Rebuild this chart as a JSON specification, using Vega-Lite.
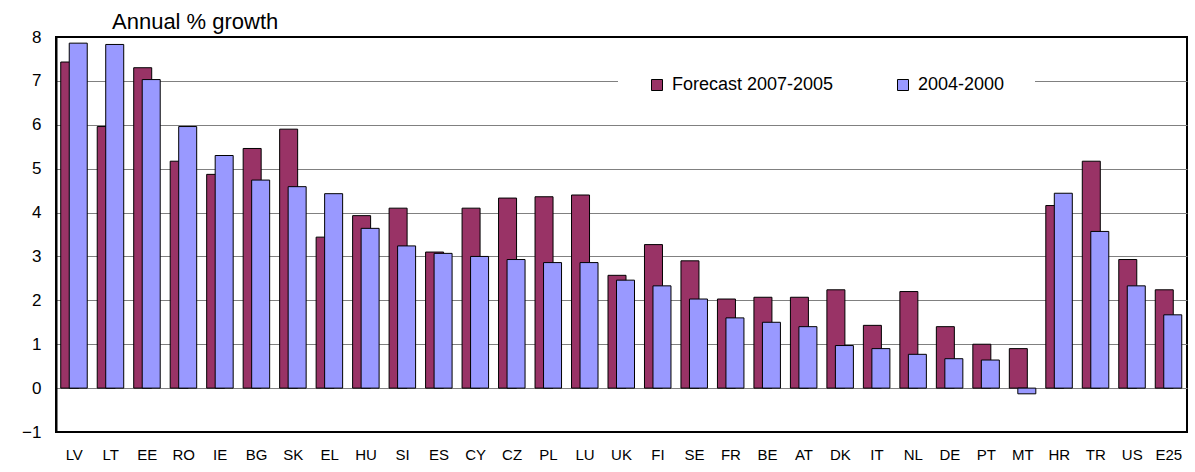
{
  "$schema": "https://vega.github.io/schema/vega-lite/v6.json",
  "autosize": "none",
  "padding": {"left": 56, "top": 37, "right": 8, "bottom": 40},
  "width": 1131,
  "height": 395,
  "background": "white",
  "title": {
    "text": "Annual % growth",
    "anchor": "start",
    "frame": "group",
    "dx": 56,
    "dy": 31,
    "offset": 3,
    "baseline": "bottom",
    "font": "Liberation Sans",
    "fontSize": 22,
    "fontWeight": "normal",
    "color": "black"
  },
  "data": {
    "values": [
      {"country": "LV", "series": "Forecast 2007-2005", "growth": 7.43},
      {"country": "LT", "series": "Forecast 2007-2005", "growth": 5.96},
      {"country": "EE", "series": "Forecast 2007-2005", "growth": 7.30},
      {"country": "RO", "series": "Forecast 2007-2005", "growth": 5.17},
      {"country": "IE", "series": "Forecast 2007-2005", "growth": 4.87},
      {"country": "BG", "series": "Forecast 2007-2005", "growth": 5.46},
      {"country": "SK", "series": "Forecast 2007-2005", "growth": 5.90},
      {"country": "EL", "series": "Forecast 2007-2005", "growth": 3.44},
      {"country": "HU", "series": "Forecast 2007-2005", "growth": 3.93},
      {"country": "SI", "series": "Forecast 2007-2005", "growth": 4.10},
      {"country": "ES", "series": "Forecast 2007-2005", "growth": 3.10},
      {"country": "CY", "series": "Forecast 2007-2005", "growth": 4.10},
      {"country": "CZ", "series": "Forecast 2007-2005", "growth": 4.33},
      {"country": "PL", "series": "Forecast 2007-2005", "growth": 4.36},
      {"country": "LU", "series": "Forecast 2007-2005", "growth": 4.40},
      {"country": "UK", "series": "Forecast 2007-2005", "growth": 2.57},
      {"country": "FI", "series": "Forecast 2007-2005", "growth": 3.27},
      {"country": "SE", "series": "Forecast 2007-2005", "growth": 2.90},
      {"country": "FR", "series": "Forecast 2007-2005", "growth": 2.03},
      {"country": "BE", "series": "Forecast 2007-2005", "growth": 2.07},
      {"country": "AT", "series": "Forecast 2007-2005", "growth": 2.07},
      {"country": "DK", "series": "Forecast 2007-2005", "growth": 2.24},
      {"country": "IT", "series": "Forecast 2007-2005", "growth": 1.43},
      {"country": "NL", "series": "Forecast 2007-2005", "growth": 2.20},
      {"country": "DE", "series": "Forecast 2007-2005", "growth": 1.40},
      {"country": "PT", "series": "Forecast 2007-2005", "growth": 1.00},
      {"country": "MT", "series": "Forecast 2007-2005", "growth": 0.90},
      {"country": "HR", "series": "Forecast 2007-2005", "growth": 4.16},
      {"country": "TR", "series": "Forecast 2007-2005", "growth": 5.17},
      {"country": "US", "series": "Forecast 2007-2005", "growth": 2.93},
      {"country": "E25", "series": "Forecast 2007-2005", "growth": 2.24},
      {"country": "LV", "series": "2004-2000", "growth": 7.86},
      {"country": "LT", "series": "2004-2000", "growth": 7.83},
      {"country": "EE", "series": "2004-2000", "growth": 7.03},
      {"country": "RO", "series": "2004-2000", "growth": 5.96},
      {"country": "IE", "series": "2004-2000", "growth": 5.30},
      {"country": "BG", "series": "2004-2000", "growth": 4.74},
      {"country": "SK", "series": "2004-2000", "growth": 4.59},
      {"country": "EL", "series": "2004-2000", "growth": 4.43},
      {"country": "HU", "series": "2004-2000", "growth": 3.64},
      {"country": "SI", "series": "2004-2000", "growth": 3.24},
      {"country": "ES", "series": "2004-2000", "growth": 3.07},
      {"country": "CY", "series": "2004-2000", "growth": 3.00},
      {"country": "CZ", "series": "2004-2000", "growth": 2.93},
      {"country": "PL", "series": "2004-2000", "growth": 2.86},
      {"country": "LU", "series": "2004-2000", "growth": 2.86},
      {"country": "UK", "series": "2004-2000", "growth": 2.46},
      {"country": "FI", "series": "2004-2000", "growth": 2.33},
      {"country": "SE", "series": "2004-2000", "growth": 2.03},
      {"country": "FR", "series": "2004-2000", "growth": 1.60},
      {"country": "BE", "series": "2004-2000", "growth": 1.50},
      {"country": "AT", "series": "2004-2000", "growth": 1.40},
      {"country": "DK", "series": "2004-2000", "growth": 0.97},
      {"country": "IT", "series": "2004-2000", "growth": 0.90},
      {"country": "NL", "series": "2004-2000", "growth": 0.77},
      {"country": "DE", "series": "2004-2000", "growth": 0.67},
      {"country": "PT", "series": "2004-2000", "growth": 0.64},
      {"country": "MT", "series": "2004-2000", "growth": -0.13},
      {"country": "HR", "series": "2004-2000", "growth": 4.44},
      {"country": "TR", "series": "2004-2000", "growth": 3.57},
      {"country": "US", "series": "2004-2000", "growth": 2.33},
      {"country": "E25", "series": "2004-2000", "growth": 1.67}
    ]
  },
  "encoding": {
    "x": {
      "field": "country",
      "type": "nominal",
      "sort": null,
      "scale": {"paddingInner": 0, "paddingOuter": 0},
      "axis": {
        "title": null,
        "labelAngle": 0,
        "labelFont": "Liberation Sans",
        "labelFontSize": 15,
        "labelColor": "black",
        "labelPadding": 15,
        "ticks": false,
        "domain": false,
        "grid": false
      }
    },
    "y": {
      "field": "growth",
      "type": "quantitative",
      "scale": {"domain": [-1, 8], "nice": false},
      "axis": {
        "title": null,
        "values": [-1, 0, 1, 2, 3, 4, 5, 6, 7, 8],
        "labelFont": "Liberation Sans",
        "labelFontSize": 17,
        "labelColor": "black",
        "labelPadding": 15,
        "ticks": false,
        "domain": true,
        "domainColor": "black",
        "domainWidth": 2,
        "grid": true,
        "gridColor": {"condition": {"test": "datum.value == -1 || datum.value == 8", "value": "black"}, "value": "#808080"},
        "gridWidth": 1,
        "gridOpacity": 1
      }
    },
    "color": {
      "field": "series",
      "type": "nominal",
      "scale": {"domain": ["Forecast 2007-2005", "2004-2000"], "range": ["#993366", "#9999FF"]},
      "legend": {
        "title": null,
        "orient": "none",
        "direction": "horizontal",
        "legendX": 562,
        "legendY": 9,
        "fillColor": "white",
        "padding": 30,
        "symbolType": "square",
        "symbolSize": 121,
        "symbolStrokeColor": "black",
        "symbolStrokeWidth": 1,
        "symbolOpacity": 1,
        "labelFont": "Liberation Sans",
        "labelFontSize": 18,
        "labelColor": "black",
        "labelOffset": 6,
        "labelLimit": 400,
        "columnPadding": 60
      }
    }
  },
  "layer": [
    {
      "transform": [{"filter": "datum.series == 'Forecast 2007-2005'"}],
      "mark": {"type": "bar", "width": 18, "xOffset": -4.5, "stroke": "black", "strokeWidth": 1, "opacity": 1}
    },
    {
      "transform": [{"filter": "datum.series == '2004-2000'"}],
      "mark": {"type": "bar", "width": 18, "xOffset": 4, "stroke": "black", "strokeWidth": 1, "opacity": 1}
    }
  ],
  "config": {
    "view": {"stroke": "black", "strokeWidth": 2}
  }
}
